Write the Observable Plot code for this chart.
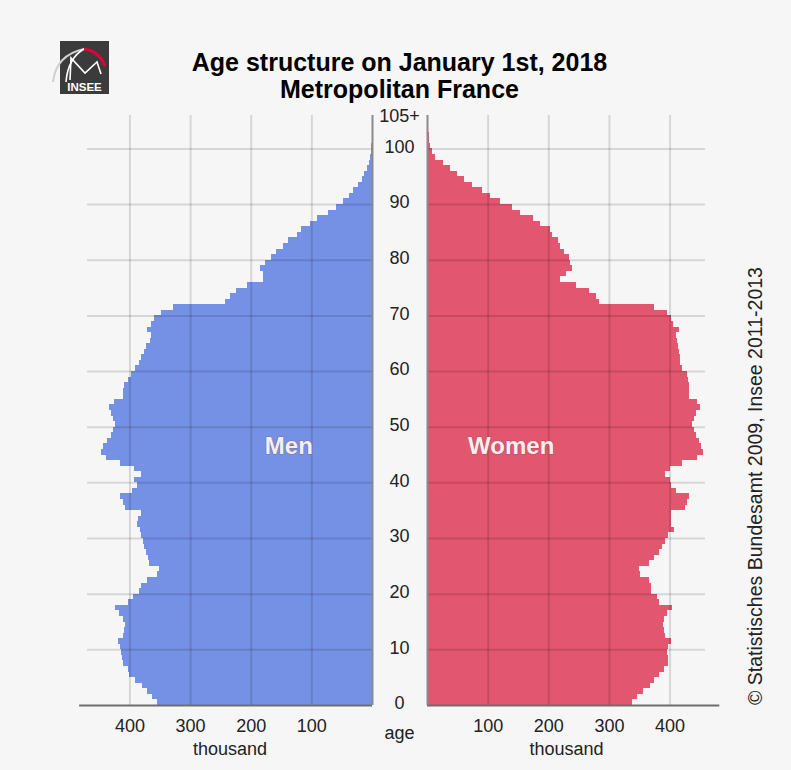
<!DOCTYPE html>
<html>
<head>
<meta charset="utf-8">
<script src="https://cdn.jsdelivr.net/npm/d3@7"></script>
<script src="https://cdn.jsdelivr.net/npm/@observablehq/plot@0.6"></script>
<style>
  html, body { margin: 0; padding: 0; background: #f6f6f6; }
  #wrap { position: relative; width: 791px; height: 770px; overflow: hidden;
          font-family: "Liberation Sans", Arial, sans-serif; }
  #title { position: absolute; left: 0; width: 799px; top: 49px; text-align: center;
           font-weight: bold; font-size: 25px; line-height: 27px; color: #000; }
  #copy { position: absolute; left: 755px; top: 486px; white-space: nowrap;
          transform: translate(-50%, -50%) rotate(-90deg);
          font-size: 19.5px; color: #222; }
  .plot { position: absolute; left: 0; top: 0; }
  #logo { position: absolute; left: 0; top: 0; }
</style>
</head>
<body>
<div id="wrap">
  <svg id="logo" width="120" height="110">
    <rect x="60" y="41" width="49" height="53" fill="#3b3b3b"/>
    <path d="M53 82 Q56 55 84 49" fill="none" stroke="#cfcfcf" stroke-width="2"/>
    <path d="M66 82 Q68 58 84 49" fill="none" stroke="#ffffff" stroke-width="1.6"/>
    <path d="M84 49 Q99 51 105 66" fill="none" stroke="#e2003d" stroke-width="3"/>
    <path d="M70 80 L71 58 L85 73 L97 62 L101 74" fill="none" stroke="#ffffff" stroke-width="1.6"/>
    <text x="84.5" y="91" text-anchor="middle" fill="#fff" font-family="Liberation Sans, Arial, sans-serif" font-weight="bold" font-size="11.5">INSEE</text>
  </svg>
  <div id="title">Age structure on January 1st, 2018<br>Metropolitan France</div>
  <div id="copy">© Statistisches Bundesamt 2009, Insee 2011-2013</div>
</div>
<script>
// ages 0..105 (105 = 105+)
const ages = d3.range(0, 106);

// Men, thousands, by age 0..105
const men = [
  354, 363, 371, 380, 391, 400, 403, 410, 413, 414,
  415, 419, 410, 409, 407, 410, 418, 424, 402, 394,
  385, 381, 371, 355, 352, 367, 369, 372, 376, 378,
  381, 382, 388, 386, 381, 407, 410, 415, 396, 388,
  393, 381, 393, 415, 438, 447, 444, 437, 431, 427,
  424, 427, 431, 433, 426, 411, 411, 409, 403, 398,
  391, 385, 381, 376, 372, 366, 364, 371, 365, 360,
  348, 328, 243, 234, 224, 206, 179, 179, 185, 177,
  166, 158, 147, 139, 124, 117, 103, 91, 73, 60,
  48, 38.5, 30.8, 22.4, 16.5, 12.4, 8.2, 4.7, 2.5, 1.5,
  1.0, 0.6, 0.4, 0.25, 0.15, 0.2
];

// Women, thousands, by age 0..105
const women = [
  338, 347, 356, 367, 374, 382, 391, 397, 397, 396,
  397, 402, 393, 391, 389, 391, 396, 404, 382, 380,
  369, 370, 366, 352, 349, 366, 374, 382, 388, 393,
  397, 407, 403, 402, 402, 426, 429, 432, 410, 402,
  400, 392, 400, 421, 446, 455, 451, 448, 444, 440,
  437, 440, 443, 450, 446, 432, 432, 432, 431, 428,
  421, 418, 417, 415, 414, 412, 410, 416, 405, 402,
  395, 374, 283, 278, 267, 246, 219, 230, 239, 235,
  234, 226, 219, 216, 206, 202, 187, 174, 153, 140,
  120, 104, 90, 75, 61, 50, 38, 27, 13, 8.5,
  5.5, 3.8, 2.5, 1.6, 1.0, 1.5
];

const xTicks = [100, 200, 300, 400];
const gridAges = [10, 20, 30, 40, 50, 60, 70, 80, 90, 100];
const ageTickValues = [0, 10, 20, 30, 40, 50, 60, 70, 80, 90, 100, 105.5];
const ageTickLabels = ["0", "10", "20", "30", "40", "50", "60", "70", "80", "90", "100", "105+"];
const sexLabels = ["Men", "Women"];
const sexLabelValue = [138, 138];
const sexLabelAge = [46.5, 46.5];
const xLabel = "thousand";
const ageLabel = "age";

const menColor = "#7591e5";
const womenColor = "#e3566f";
const font = "'Liberation Sans', Arial, sans-serif";
const gridStyle = {stroke: "#000", strokeOpacity: 0.13, strokeWidth: 2};
const labelStyle = {fontSize: 24, fontWeight: "bold", fill: "#f7eeee", stroke: "#8a4a5a", strokeOpacity: 0.5, strokeWidth: 1.2, paintOrder: "stroke"};

const commonStyle = {background: "transparent", fontFamily: font, fontSize: "18px", color: "#222", overflow: "visible"};

const leftPlot = Plot.plot({
  width: 380, height: 770,
  marginLeft: 87, marginRight: 8, marginTop: 115, marginBottom: 65,
  x: {domain: [470, 0]},
  y: {domain: [0, 106], axis: null},
  style: commonStyle,
  marks: [
    Plot.rectX(ages, {x1: 0, x2: i => men[i], y1: i => i, y2: i => i + 1, fill: menColor, shapeRendering: "crispEdges"}),
    Plot.ruleY(gridAges, gridStyle),
    Plot.ruleX(xTicks, gridStyle),
    Plot.ruleY([0], {x1: 483, x2: 0, stroke: "#6e6e6e", strokeWidth: 2}),
    Plot.ruleX([0], {stroke: "#8a8a8a", strokeWidth: 2}),
    Plot.axisX(xTicks, {tickSize: 0, tickPadding: 14, label: null, fontSize: 18}),
    Plot.text([xLabel], {text: d => d, frameAnchor: "bottom", dy: 49, fontSize: 18}),
    Plot.text([0], {text: () => sexLabels[0], x: () => sexLabelValue[0], y: () => sexLabelAge[0], ...labelStyle})
  ]
});

const rightPlot = Plot.plot({
  width: 791, height: 770,
  marginLeft: 427, marginRight: 86, marginTop: 115, marginBottom: 65,
  x: {domain: [0, 458.4]},
  y: {domain: [0, 106], axis: null},
  style: commonStyle,
  marks: [
    Plot.rectX(ages, {x1: 0, x2: i => women[i], y1: i => i, y2: i => i + 1, fill: womenColor, shapeRendering: "crispEdges"}),
    Plot.ruleY(gridAges, gridStyle),
    Plot.ruleX(xTicks, gridStyle),
    Plot.ruleY([0], {x1: 0, x2: 482, stroke: "#6e6e6e", strokeWidth: 2}),
    Plot.ruleX([0], {stroke: "#8a8a8a", strokeWidth: 2}),
    Plot.axisX(xTicks, {tickSize: 0, tickPadding: 14, label: null, fontSize: 18}),
    Plot.text([xLabel], {text: d => d, frameAnchor: "bottom", dy: 49, fontSize: 18}),
    Plot.text(ageTickValues, {x: 0, y: d => d, text: (d, i) => ageTickLabels[i], dx: -28, dy: -2, fontSize: 18, textAnchor: "middle"}),
    Plot.text([ageLabel], {text: d => d, x: 0, y: 0, dx: -28, dy: 28, fontSize: 18, textAnchor: "middle"}),
    Plot.text([0], {text: () => sexLabels[1], x: () => sexLabelValue[1], y: () => sexLabelAge[1], ...labelStyle})
  ]
});

leftPlot.classList.add("plot");
rightPlot.classList.add("plot");
const wrap = document.getElementById("wrap");
wrap.insertBefore(rightPlot, wrap.firstChild);
wrap.insertBefore(leftPlot, wrap.firstChild);
</script>
</body>
</html>
